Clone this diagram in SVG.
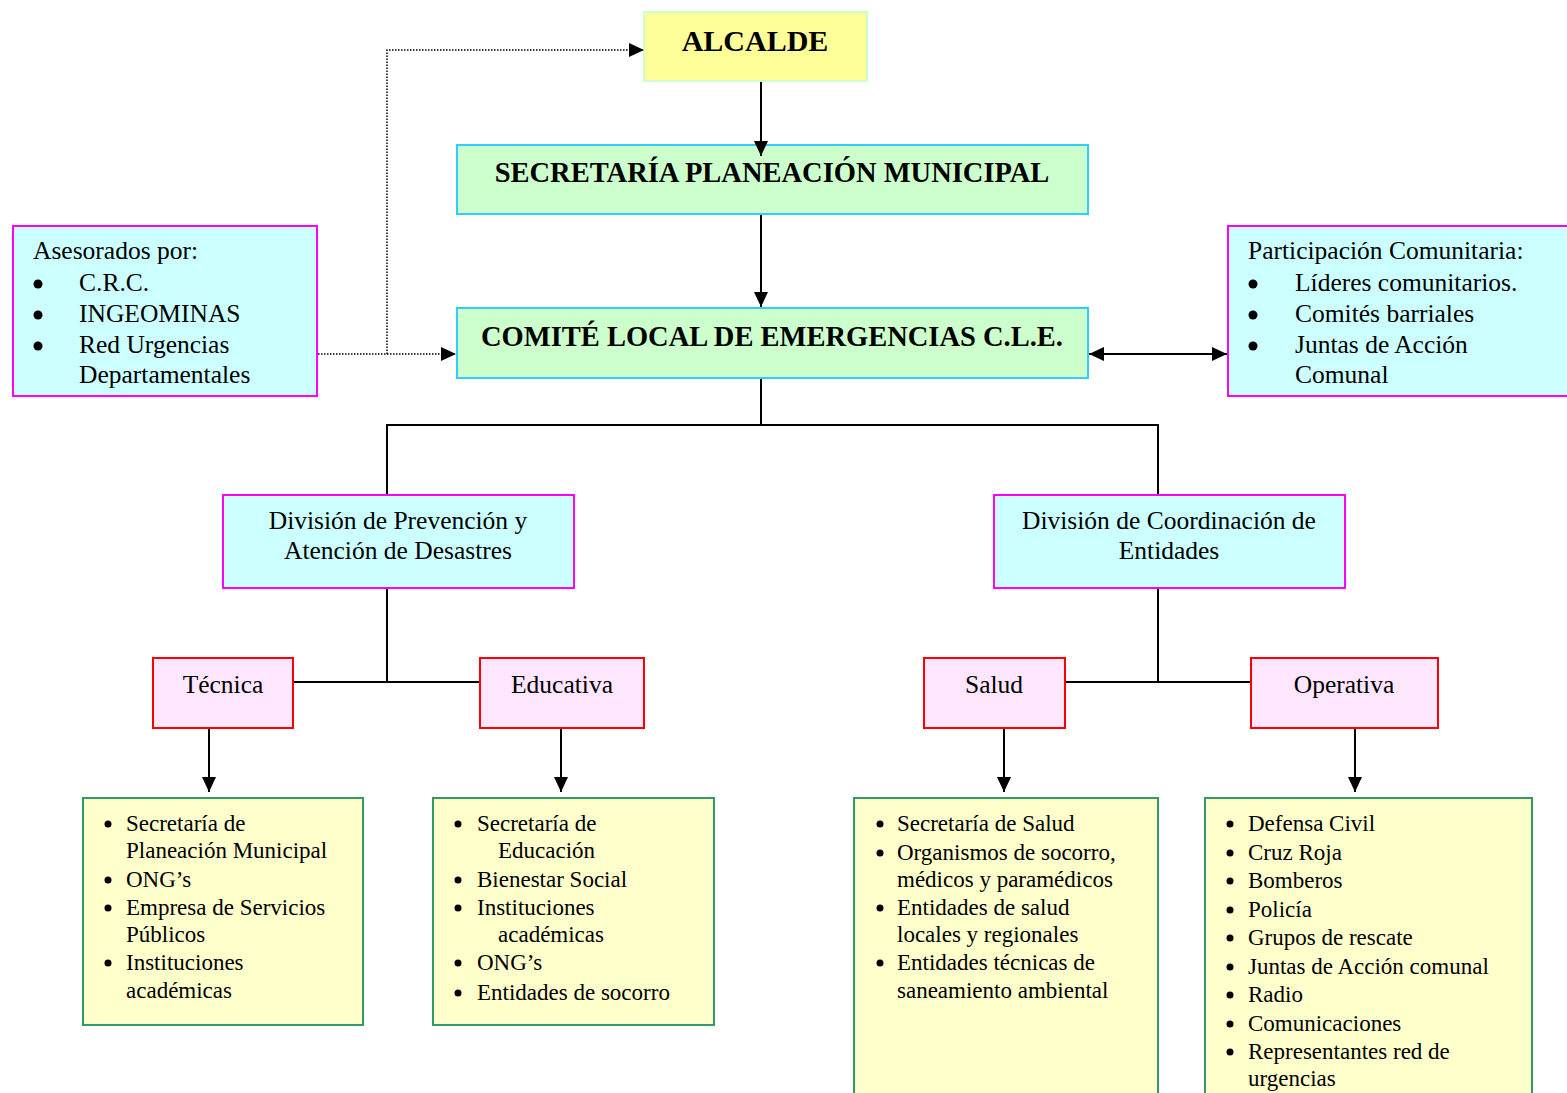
<svg xmlns="http://www.w3.org/2000/svg" width="1567" height="1093" viewBox="0 0 1567 1093">
<style>
text{font-family:"Liberation Serif","Times New Roman",serif;fill:#000}
.b{font-weight:bold}
.t{font-size:25.5px}
.s{font-size:23px}
.c{text-anchor:middle}
.yel{fill:#ffff99;stroke:#ccffcc;stroke-width:2}
.grn{fill:#ccffcc;stroke:#33ccff;stroke-width:2}
.cya{fill:#ccffff;stroke:#ff00ff;stroke-width:2}
.pnk{fill:#ffe6ff;stroke:#ff0000;stroke-width:2}
.lst{fill:#ffffcc;stroke:#339966;stroke-width:2}
.ln{fill:none;stroke:#000;stroke-width:2}
.dot{fill:none;stroke:#000;stroke-width:1.5;stroke-dasharray:1.5 1.5}
</style>
<defs>
<marker id="arr" viewBox="0 0 15 14" refX="15" refY="7" markerWidth="15" markerHeight="14" markerUnits="userSpaceOnUse" orient="auto-start-reverse">
<path d="M0,0 L15,7 L0,14 z" fill="#000"/>
</marker>
</defs>

<g id="alcalde">
<rect class="yel" x="644" y="12" width="223" height="69"/>
<text class="b c" x="755" y="51" font-size="30">ALCALDE</text>
</g>

<g id="secretaria">
<rect class="grn" x="457" y="145" width="631" height="69"/>
<text class="b c" x="772" y="182" font-size="28.5">SECRETARÍA PLANEACIÓN MUNICIPAL</text>
</g>

<g id="comite">
<rect class="grn" x="457" y="308" width="631" height="70"/>
<text class="b c" x="772" y="346" font-size="28.5">COMITÉ LOCAL DE EMERGENCIAS C.L.E.</text>
</g>

<g id="asesorados">
<rect class="cya" x="13" y="226" width="304" height="170"/>
<text class="t" x="33" y="259">Asesorados por:</text>
<circle cx="38" cy="284" r="4.5"/><text class="t" x="79" y="291">C.R.C.</text>
<circle cx="38" cy="315" r="4.5"/><text class="t" x="79" y="322">INGEOMINAS</text>
<circle cx="38" cy="346" r="4.5"/><text class="t" x="79" y="353">Red Urgencias</text>
<text class="t" x="79" y="383">Departamentales</text>
</g>

<g id="participacion">
<rect class="cya" x="1228" y="226" width="345" height="170"/>
<text class="t" x="1248" y="259">Participación Comunitaria:</text>
<circle cx="1253" cy="284" r="4.5"/><text class="t" x="1295" y="291">Líderes comunitarios.</text>
<circle cx="1253" cy="315" r="4.5"/><text class="t" x="1295" y="322">Comités barriales</text>
<circle cx="1253" cy="346" r="4.5"/><text class="t" x="1295" y="353">Juntas de Acción</text>
<text class="t" x="1295" y="383">Comunal</text>
</g>

<g id="div-prevencion">
<rect class="cya" x="223" y="495" width="351" height="93"/>
<text class="t c" x="398" y="529">División de Prevención y</text>
<text class="t c" x="398" y="559">Atención de Desastres</text>
</g>

<g id="div-coordinacion">
<rect class="cya" x="994" y="495" width="351" height="93"/>
<text class="t c" x="1169" y="529">División de Coordinación de</text>
<text class="t c" x="1169" y="559">Entidades</text>
</g>

<g id="tecnica">
<rect class="pnk" x="153" y="658" width="140" height="70"/>
<text class="t c" x="223" y="693">Técnica</text>
</g>

<g id="educativa">
<rect class="pnk" x="480" y="658" width="164" height="70"/>
<text class="t c" x="562" y="693">Educativa</text>
</g>

<g id="salud">
<rect class="pnk" x="924" y="658" width="141" height="70"/>
<text class="t c" x="994" y="693">Salud</text>
</g>

<g id="operativa">
<rect class="pnk" x="1251" y="658" width="187" height="70"/>
<text class="t c" x="1344" y="693">Operativa</text>
</g>

<g id="lista-tecnica">
<rect class="lst" x="83" y="798" width="280" height="227"/>
<circle cx="108" cy="824" r="3.5"/><text class="s" x="126" y="831">Secretaría de</text>
<text class="s" x="126" y="858">Planeación Municipal</text>
<circle cx="108" cy="880" r="3.5"/><text class="s" x="126" y="887">ONG’s</text>
<circle cx="108" cy="908" r="3.5"/><text class="s" x="126" y="915">Empresa de Servicios</text>
<text class="s" x="126" y="942">Públicos</text>
<circle cx="108" cy="963" r="3.5"/><text class="s" x="126" y="970">Instituciones</text>
<text class="s" x="126" y="998">académicas</text>
</g>

<g id="lista-educativa">
<rect class="lst" x="433" y="798" width="281" height="227"/>
<circle cx="458" cy="824" r="3.5"/><text class="s" x="477" y="831">Secretaría de</text>
<text class="s" x="498" y="858">Educación</text>
<circle cx="458" cy="880" r="3.5"/><text class="s" x="477" y="887">Bienestar Social</text>
<circle cx="458" cy="908" r="3.5"/><text class="s" x="477" y="915">Instituciones</text>
<text class="s" x="498" y="942">académicas</text>
<circle cx="458" cy="963" r="3.5"/><text class="s" x="477" y="970">ONG’s</text>
<circle cx="458" cy="993" r="3.5"/><text class="s" x="477" y="1000">Entidades de socorro</text>
</g>

<g id="lista-salud">
<rect class="lst" x="854" y="798" width="304" height="310"/>
<circle cx="880" cy="824" r="3.5"/><text class="s" x="897" y="831">Secretaría de Salud</text>
<circle cx="880" cy="853" r="3.5"/><text class="s" x="897" y="860">Organismos de socorro,</text>
<text class="s" x="897" y="887">médicos y paramédicos</text>
<circle cx="880" cy="908" r="3.5"/><text class="s" x="897" y="915">Entidades de salud</text>
<text class="s" x="897" y="942">locales y regionales</text>
<circle cx="880" cy="963" r="3.5"/><text class="s" x="897" y="970">Entidades técnicas de</text>
<text class="s" x="897" y="998">saneamiento ambiental</text>
</g>

<g id="lista-operativa">
<rect class="lst" x="1205" y="798" width="327" height="310"/>
<circle cx="1230" cy="824" r="3.5"/><text class="s" x="1248" y="831">Defensa Civil</text>
<circle cx="1230" cy="853" r="3.5"/><text class="s" x="1248" y="860">Cruz Roja</text>
<circle cx="1230" cy="881" r="3.5"/><text class="s" x="1248" y="888">Bomberos</text>
<circle cx="1230" cy="910" r="3.5"/><text class="s" x="1248" y="917">Policía</text>
<circle cx="1230" cy="938" r="3.5"/><text class="s" x="1248" y="945">Grupos de rescate</text>
<circle cx="1230" cy="967" r="3.5"/><text class="s" x="1248" y="974">Juntas de Acción comunal</text>
<circle cx="1230" cy="995" r="3.5"/><text class="s" x="1248" y="1002">Radio</text>
<circle cx="1230" cy="1024" r="3.5"/><text class="s" x="1248" y="1031">Comunicaciones</text>
<circle cx="1230" cy="1052" r="3.5"/><text class="s" x="1248" y="1059">Representantes red de</text>
<text class="s" x="1248" y="1086">urgencias</text>
</g>

<g id="connectors">
<line class="ln" x1="761" y1="82" x2="761" y2="156" marker-end="url(#arr)"/>
<line class="ln" x1="761" y1="215" x2="761" y2="307" marker-end="url(#arr)"/>
<polyline class="dot" points="318,354 387,354 387,50 644,50" marker-end="url(#arr)"/>
<line class="dot" x1="387" y1="354" x2="456" y2="354" marker-end="url(#arr)"/>
<line class="ln" x1="1089" y1="354" x2="1227" y2="354" marker-start="url(#arr)" marker-end="url(#arr)"/>
<polyline class="ln" points="761,379 761,425"/>
<polyline class="ln" points="387,494 387,425 1158,425 1158,494"/>
<line class="ln" x1="387" y1="589" x2="387" y2="682"/>
<line class="ln" x1="294" y1="682" x2="479" y2="682"/>
<line class="ln" x1="1158" y1="589" x2="1158" y2="682"/>
<line class="ln" x1="1066" y1="682" x2="1250" y2="682"/>
<line class="ln" x1="209" y1="729" x2="209" y2="792" marker-end="url(#arr)"/>
<line class="ln" x1="561" y1="729" x2="561" y2="792" marker-end="url(#arr)"/>
<line class="ln" x1="1004" y1="729" x2="1004" y2="792" marker-end="url(#arr)"/>
<line class="ln" x1="1355" y1="729" x2="1355" y2="792" marker-end="url(#arr)"/>
</g>
</svg>
